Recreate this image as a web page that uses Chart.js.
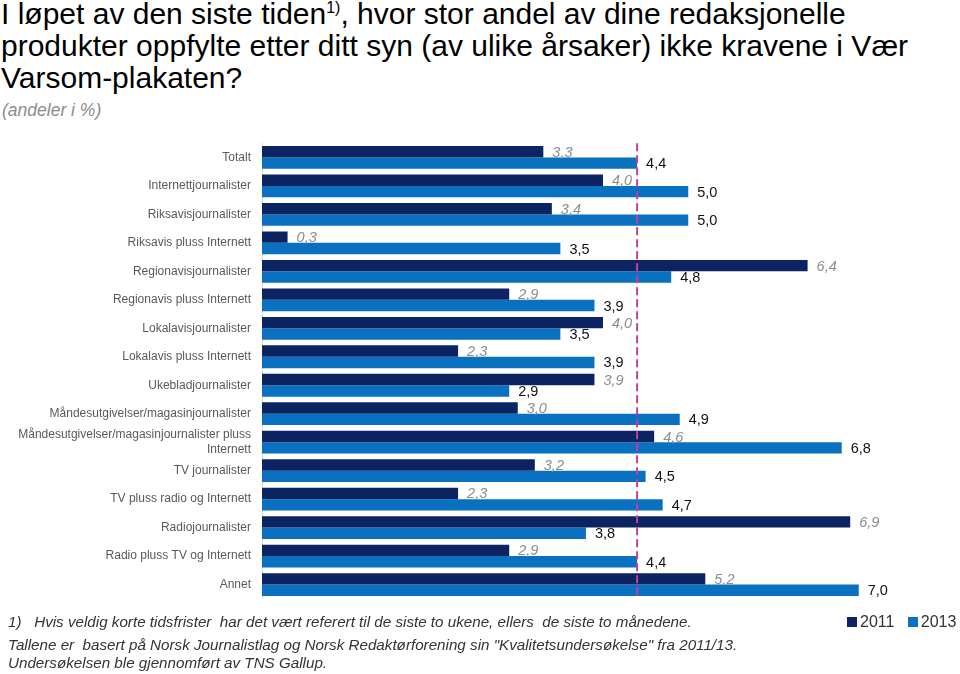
<!DOCTYPE html>
<html>
<head>
<meta charset="utf-8">
<script src="https://cdn.jsdelivr.net/npm/chart.js@4.4.1/dist/chart.umd.min.js"></script>
<style>
  body { margin: 0; background: #fff; font-family: "Liberation Sans", Arial, sans-serif; }
  #wrap { position: relative; width: 960px; height: 674px; overflow: hidden; }
  .title { position: absolute; left: 1px; top: -2px; font-size: 30px; line-height: 32px; color: #000; width: 955px; white-space: nowrap; }
  .title sup { font-size: 16px; vertical-align: 11px; line-height: 0; }
  .sub { position: absolute; left: 2px; top: 100px; font-size: 17.5px; font-style: italic; color: #8c8c8c; }
  #chart { position: absolute; left: 0; top: 125px; }
  .note { position: absolute; left: 8px; font-size: 15.2px; font-style: italic; color: #333; white-space: nowrap; }
  .legend { position: absolute; left: 847px; top: 613px; font-size: 16px; color: #333; white-space: nowrap; }
  .legend span.sq { display: inline-block; width: 10px; height: 10px; margin-right: 3px; }
</style>
</head>
<body>
<div id="wrap">
  <div class="title">I løpet av den siste tiden<sup>1)</sup>, hvor stor andel av dine redaksjonelle<br>produkter oppfylte etter ditt syn (av ulike årsaker) ikke kravene i Vær<br>Varsom-plakaten?</div>
  <div class="sub">(andeler i %)</div>
  <canvas id="chart" width="960" height="492"></canvas>
  <div class="note" style="top:613px">1)&nbsp;&nbsp;&nbsp;Hvis veldig korte tidsfrister&nbsp; har det vært referert til de siste to ukene, ellers&nbsp; de siste to månedene.</div>
  <div class="note" style="top:636px">Tallene er&nbsp; basert på Norsk Journalistlag og Norsk Redaktørforening sin "Kvalitetsundersøkelse" fra 2011/13.</div>
  <div class="note" style="top:654px">Undersøkelsen ble gjennomført av TNS Gallup.</div>
  <div class="legend"><span class="sq" style="background:#0c2461"></span>2011&nbsp;&nbsp; <span class="sq" style="background:#0a70c0"></span>2013</div>
</div>
<script>
// categories, top to bottom
const categories = [
  'Totalt',
  'Internettjournalister',
  'Riksavisjournalister',
  'Riksavis pluss Internett',
  'Regionavisjournalister',
  'Regionavis pluss Internett',
  'Lokalavisjournalister',
  'Lokalavis pluss Internett',
  'Ukebladjournalister',
  'Måndesutgivelser/magasinjournalister',
  ['Måndesutgivelser/magasinjournalister pluss', 'Internett'],
  'TV journalister',
  'TV pluss radio og Internett',
  'Radiojournalister',
  'Radio pluss TV og Internett',
  'Annet'
];
const values2011 = [3.3, 4.0, 3.4, 0.3, 6.4, 2.9, 4.0, 2.3, 3.9, 3.0, 4.6, 3.2, 2.3, 6.9, 2.9, 5.2];
const values2013 = [4.4, 5.0, 5.0, 3.5, 4.8, 3.9, 3.5, 3.9, 2.9, 4.9, 6.8, 4.5, 4.7, 3.8, 4.4, 7.0];
// reference line = Totalt 2013
const refValue = values2013[0];

const fmt = v => v.toFixed(1).replace('.', ',');

// draws value labels next to bars
const valueLabels = {
  id: 'valueLabels',
  afterDatasetsDraw(chart) {
    const ctx = chart.ctx;
    ctx.save();
    chart.data.datasets.forEach((ds, di) => {
      const meta = chart.getDatasetMeta(di);
      meta.data.forEach((bar, i) => {
        if (di === 0) {
          ctx.font = 'italic 14.5px "Liberation Sans", Arial, sans-serif';
          ctx.fillStyle = '#8c8c8c';
        } else {
          ctx.font = '14.5px "Liberation Sans", Arial, sans-serif';
          ctx.fillStyle = '#111';
        }
        ctx.textBaseline = 'middle';
        ctx.textAlign = 'left';
        ctx.fillText(fmt(ds.data[i]), bar.x + 9, bar.y + 1);
      });
    });
    ctx.restore();
  }
};

// dashed vertical line at the total value
const refLine = {
  id: 'refLine',
  afterDatasetsDraw(chart) {
    const ctx = chart.ctx;
    const x = chart.scales.x.getPixelForValue(refValue);
    const area = chart.chartArea;
    ctx.save();
    ctx.strokeStyle = '#c0429e';
    ctx.lineWidth = 2;
    ctx.setLineDash([8, 4]);
    ctx.beginPath();
    ctx.moveTo(x, area.top);
    ctx.lineTo(x, area.bottom);
    ctx.stroke();
    ctx.restore();
  }
};

new Chart(document.getElementById('chart'), {
  type: 'bar',
  data: {
    labels: categories,
    datasets: [
      { label: '2011', data: values2011, backgroundColor: '#0c2461', categoryPercentage: 0.8, barPercentage: 1.0 },
      { label: '2013', data: values2013, backgroundColor: '#0a70c0', categoryPercentage: 0.8, barPercentage: 1.0 }
    ]
  },
  options: {
    indexAxis: 'y',
    responsive: false,
    animation: false,
    maintainAspectRatio: false,
    layout: { padding: { left: 0, right: 16, top: 0, bottom: 0 } },
    plugins: {
      legend: { display: false },
      tooltip: { enabled: false }
    },
    scales: {
      x: { display: false, min: 0, max: 8 },
      y: {
        grid: { display: false, drawTicks: false },
        border: { display: true, color: '#d9d9d9' },
        ticks: {
          color: '#595959',
          font: { family: '"Liberation Sans", Arial, sans-serif', size: 12 },
          padding: 11,
          autoSkip: false
        },
        afterFit(scale) { scale.width = 262; }
      }
    }
  },
  plugins: [valueLabels, refLine]
});
</script>
</body>
</html>
